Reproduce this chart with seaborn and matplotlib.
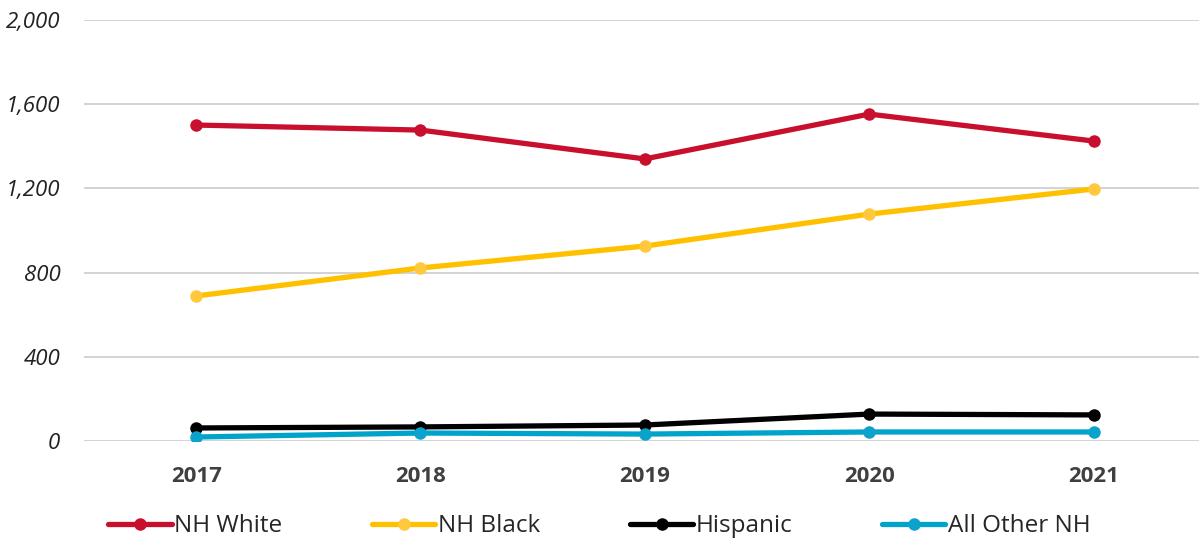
import pandas as pd
import matplotlib.pyplot as plt
import seaborn as sns

# Data
years = ["2017", "2018", "2019", "2020", "2021"]
nh_white = [1501, 1477, 1340, 1553, 1425]
nh_black = [689, 822, 926, 1078, 1197]
hispanic = [62, 67, 76, 128, 124]
all_other_nh = [19, 38, 33, 43, 43]
groups = ["NH White", "NH Black", "Hispanic", "All Other NH"]
colors = ["#C8102E", "#FFC000", "#000000", "#00A3C9"]
marker_colors = ["#C8102E", "#FFC83D", "#000000", "#0BA3CC"]
y_ticks = [0, 400, 800, 1200, 1600, 2000]

df = pd.DataFrame({
    "year": years * 4,
    "value": nh_white + nh_black + hispanic + all_other_nh,
    "group": [g for g in groups for _ in years],
})

sns.set_style("white")
plt.rcParams["font.family"] = ["Open Sans", "DejaVu Sans"]

fig = plt.figure(figsize=(11.99, 5.40), dpi=100)
ax = fig.add_axes([0.07, 0.1833, 0.93, 0.7797])

sns.lineplot(data=df, x="year", y="value", hue="group", hue_order=groups,
             palette=colors, marker="o", markersize=9, linewidth=3.8,
             markeredgewidth=0, legend=False, ax=ax)

# lighter marker fills, as in the reference
for line, mc in zip(ax.lines, marker_colors):
    line.set_markerfacecolor(mc)

ax.set_ylim(0, 2000)
ax.set_xlim(-0.5, 4.47)
ax.set_yticks(y_ticks)
ax.set_yticklabels([f"{v:,}" for v in y_ticks], fontsize=16, style="italic",
                   color="#222222")
ax.set_xticks(range(len(years)))
ax.set_xticklabels(years, fontsize=16, fontweight="bold", color="#404040")
ax.tick_params(axis="y", length=0, pad=17)
ax.tick_params(axis="x", length=0, pad=18)
ax.set_xlabel("")
ax.set_ylabel("")
ax.yaxis.grid(True, color="#D0D0D0", linewidth=1.3)
ax.set_axisbelow(True)
sns.despine(ax=ax, left=True, bottom=True)

handles = [plt.Line2D([], [], color=c, marker="o", markersize=9, linewidth=3.8,
                      markerfacecolor=mc, markeredgewidth=0)
           for c, mc in zip(colors, marker_colors)]
fig.legend(handles, groups, loc="center", bbox_to_anchor=(0.5, 0.025), ncol=4,
           frameon=False, fontsize=17.5, handlelength=2.6, handletextpad=0.1,
           columnspacing=3.7)

fig.savefig("out.png", dpi=100)
